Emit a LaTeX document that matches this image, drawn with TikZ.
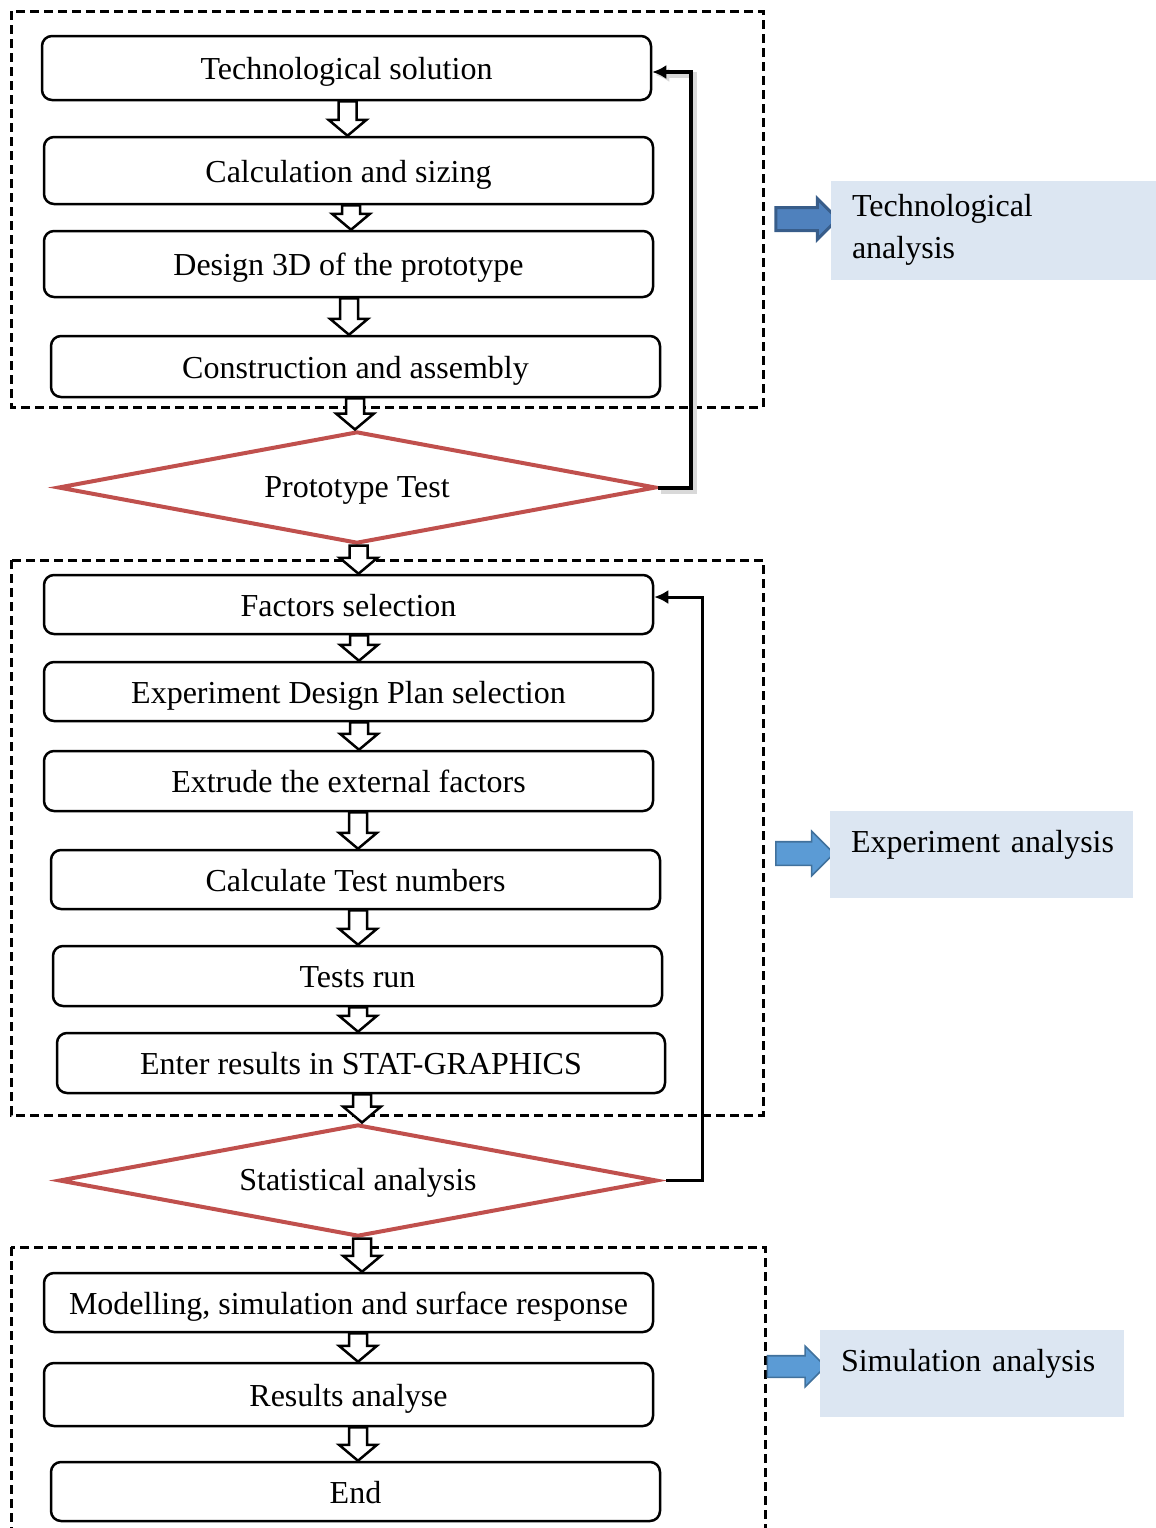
\documentclass[tikz,border=0pt]{standalone}
\usepackage{fontspec}
\setmainfont{Liberation Serif}
\usetikzlibrary{shapes.geometric, shapes.arrows, arrows.meta, calc}

\definecolor{diared}{HTML}{C0504D}
\definecolor{darkblue}{HTML}{4F81BD}
\definecolor{darkblueline}{HTML}{385D8A}
\definecolor{lightblue}{HTML}{5B9BD5}
\definecolor{lightblueline}{HTML}{41719C}
\definecolor{labelfill}{HTML}{DCE6F2}

% hollow block arrow between two nodes, at a given x (px)
\newcommand{\hollowarrow}[3]{%
  \draw[hollow] let \p1=(#1.south), \p2=(#2.north), \p3=(#3,0) in
    (\x3-4.5pt,\y1) -- (\x3+4.5pt,\y1) -- (\x3+4.5pt,\y2+8pt) -- (\x3+9.5pt,\y2+8pt)
    -- (\x3,\y2) -- (\x3-9.5pt,\y2+8pt) -- (\x3-4.5pt,\y2+8pt) -- cycle;}

\begin{document}
\begin{tikzpicture}[x=0.5pt, y=-0.5pt,
    every node/.style={font=\fontsize{16}{21}\selectfont},
    stepbox/.style={draw, rounded corners=5pt, line width=1.25pt, fill=white,
        minimum width=304.5pt, inner sep=0pt, text height=14.5pt, text depth=3pt},
    testdia/.style={diamond, aspect=5.3, draw=diared, line width=2pt, fill=white,
        minimum width=299pt, minimum height=56pt, inner sep=0pt,
        text height=13pt, text depth=3pt},
    group/.style={dashed, line width=1.5pt, dash pattern=on 4.5pt off 2.5pt},
    hollow/.style={draw, fill=white, line width=1.25pt},
    feedback/.style={line width=1.5pt, -{Latex[length=7pt,width=7pt]}},
    bluearrow/.style={single arrow, inner xsep=0pt, shape border rotate=0},
    labelbox/.style={fill=labelfill, align=left, inner xsep=10.5pt, inner ysep=0pt}]

    \useasboundingbox (0,0) rectangle (1156,1528);

    % dashed groups
    \draw[group] (11,11) rectangle (763,407);
    \draw[group] (11,560) rectangle (763,1115);
    \draw[group] (11,1247) rectangle (765,1545);

    % technological part
    \node[stepbox, minimum height=32pt] (t1) at (346.5,68) {Technological solution};
    \node[stepbox, minimum height=33.5pt] (t2) at (348.5,170.5) {Calculation and sizing};
    \node[stepbox, minimum height=33pt] (t3) at (348.5,264) {Design 3D of the prototype};
    \node[stepbox, minimum height=30.5pt] (t4) at (355.5,366.5) {Construction and assembly};
    \node[testdia] (d1) at (357,487.5) {Prototype Test};

    % experiment part
    \node[stepbox, minimum height=29.5pt] (f1) at (348.5,604.5) {Factors selection};
    \node[stepbox, minimum height=29.5pt] (f2) at (348.5,691.5) {Experiment Design Plan selection};
    \node[stepbox, minimum height=30pt] (f3) at (348.5,781) {Extrude the external factors};
    \node[stepbox, minimum height=29.5pt] (f4) at (355.5,879.5) {Calculate Test numbers};
    \node[stepbox, minimum height=30pt] (f5) at (357.5,976) {Tests run};
    \node[stepbox, minimum height=30pt, minimum width=304pt] (f6) at (361,1063) {Enter results in STAT-GRAPHICS};
    \node[testdia] (d2) at (358,1180.5) {Statistical analysis};

    % simulation part
    \node[stepbox, minimum height=29.5pt] (s1) at (348.5,1302.5) {Modelling, simulation and surface response};
    \node[stepbox, minimum height=31.5pt] (s2) at (348.5,1394.5) {Results analyse};
    \node[stepbox, minimum height=29.5pt] (s3) at (355.5,1491.5) {End};

    % labels on the right
    \node[bluearrow, fill=darkblue, draw=darkblueline, line width=1.5pt, inner ysep=5pt,
        minimum height=31pt, single arrow head extend=4.5pt] (ba1) at (801,219) {};
    \node[labelbox, minimum width=162.5pt, minimum height=49.5pt, text width=141.5pt] (l1) at (993.5,230) {Technological\\analysis};
    \node[bluearrow, fill=lightblue, draw=lightblueline, line width=0.8pt, inner ysep=5.5pt,
        minimum height=29pt, single arrow head extend=5.25pt] (ba2) at (799,853.5) {};
    \node[labelbox, minimum width=151.5pt, text width=130.5pt, text height=20.5pt, text depth=23pt] (l2) at (981.5,854.5) {\mbox{Experiment analysis}};
    \node[bluearrow, fill=lightblue, draw=lightblueline, line width=0.8pt, inner ysep=5pt,
        minimum height=29pt, single arrow head extend=4.75pt] (ba3) at (791,1366.5) {};
    \node[labelbox, minimum width=152pt, text width=131pt, text height=20.5pt, text depth=23pt] (l3) at (972,1373.5) {\mbox{Simulation analysis}};

    % feedback loops
    \draw[feedback, line width=2pt, preaction={draw=black!15, line width=3pt,
        transform canvas={shift={(1.5pt,-1.5pt)}}}]
        (d1.east) -- ++(33,0) |- ([yshift=-2pt]t1.east);
    \draw[feedback] ([xshift=3.5pt]d2.east) -- ++(36,0) |- ([yshift=3.75pt]f1.east);

    % hollow arrows
    \hollowarrow{t1}{t2}{347.5}
    \hollowarrow{t2}{t3}{351}
    \hollowarrow{t3}{t4}{349}
    \hollowarrow{t4}{d1}{355}
    \hollowarrow{d1}{f1}{358.5}
    \hollowarrow{f1}{f2}{359}
    \hollowarrow{f2}{f3}{359}
    \hollowarrow{f3}{f4}{358}
    \hollowarrow{f4}{f5}{358}
    \hollowarrow{f5}{f6}{358}
    \hollowarrow{f6}{d2}{362}
    \hollowarrow{d2}{s1}{362}
    \hollowarrow{s1}{s2}{358}
    \hollowarrow{s2}{s3}{358}
\end{tikzpicture}
\end{document}
